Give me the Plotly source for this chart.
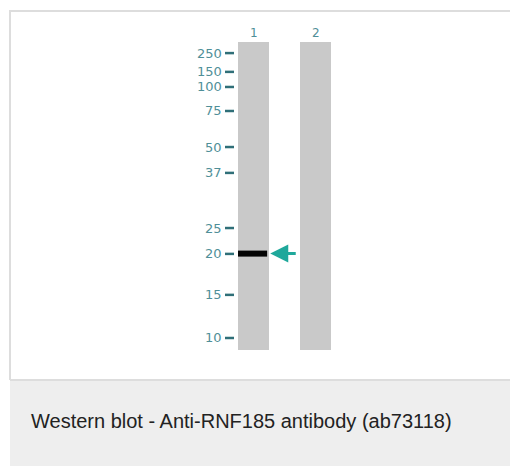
import plotly.graph_objects as go

# ---- data ----
lane_labels = ["1", "2"]
lane_pos = [1, 2]
marker_kda = ["250", "150", "100", "75", "50", "37", "25", "20", "15", "10"]
marker_rf = [0.036, 0.097, 0.146, 0.224, 0.341, 0.425, 0.604, 0.688, 0.821, 0.961]
band_lane = 1
band_rf = 0.687
caption = "Western blot - Anti-RNF185 antibody (ab73118)"

W, H = 510, 466
# geometry of the gel image in pixels
lane_top_px, lane_len_px = 42, 308
lane1_center_px, lane_step_px = 253.5, 62
half_w = 0.25

fig = go.Figure()

# lanes
for lp in lane_pos:
    fig.add_shape(type="rect", xref="x", yref="y", x0=lp - half_w, x1=lp + half_w,
                  y0=0, y1=1, fillcolor="#c9c9c9", line_width=0, layer="below")

# marker dashes
dx, dy = [], []
for rf in marker_rf:
    dx += [lane_pos[0] - half_w - 13 / lane_step_px, lane_pos[0] - half_w - 4 / lane_step_px, None]
    dy += [rf, rf, None]
fig.add_trace(go.Scatter(x=dx, y=dy, mode="lines", line=dict(color="#2f6f78", width=2.5),
                         hoverinfo="skip", showlegend=False))

# marker labels
for lab, rf in zip(marker_kda, marker_rf):
    fig.add_annotation(x=lane_pos[0] - half_w, y=rf, xref="x", yref="y", text=lab,
                       showarrow=False, xanchor="right", yanchor="middle", xshift=-14,
                       font=dict(family="DejaVu Sans", size=13, color="#4f8f98"))

# lane numbers
for lab, lp in zip(lane_labels, lane_pos):
    fig.add_annotation(x=lp, y=-0.03, xref="x", yref="y", text=lab, showarrow=False,
                       font=dict(family="DejaVu Sans", size=12, color="#4f8f98"))

# band
fig.add_shape(type="rect", xref="x", yref="y", x0=band_lane - half_w, x1=band_lane + half_w - 0.03,
              y0=band_rf - 3 / lane_len_px, y1=band_rf + 3 / lane_len_px,
              fillcolor="#050505", line_width=0)

# arrow
fig.add_annotation(x=band_lane + half_w + 0.02, y=band_rf, xref="x", yref="y",
                   ax=27, ay=0, text="", showarrow=True, arrowhead=2, arrowsize=1.2,
                   arrowwidth=3, arrowcolor="#1fa89b")

# card frame and caption
fig.add_shape(type="rect", xref="paper", yref="paper", x0=10 / W, x1=1, y0=0, y1=1 - 380 / H,
              fillcolor="#eeeeee", line_width=0, layer="below")
fig.add_shape(type="line", xref="paper", yref="paper", x0=10 / W, x1=1, y0=1 - 380 / H, y1=1 - 380 / H,
              line=dict(color="#dddddd", width=2))
fig.add_shape(type="line", xref="paper", yref="paper", x0=9 / W, x1=1, y0=1 - 11 / H, y1=1 - 11 / H,
              line=dict(color="#dddddd", width=2))
fig.add_shape(type="line", xref="paper", yref="paper", x0=10 / W, x1=10 / W, y0=1 - 380 / H, y1=1 - 10 / H,
              line=dict(color="#dddddd", width=2))
fig.add_annotation(x=29 / W, y=1 - 421 / H, xref="paper", yref="paper", text=caption,
                   showarrow=False, xanchor="left", yanchor="middle",
                   font=dict(family="Liberation Sans, Arial", size=20, color="#222222"))

x0 = lane_pos[0] - lane1_center_px / lane_step_px
x1 = lane_pos[0] + (W - lane1_center_px) / lane_step_px
fig.update_layout(
    width=W, height=H, margin=dict(l=0, r=0, t=0, b=0),
    paper_bgcolor="white", plot_bgcolor="white",
    xaxis=dict(range=[x0, x1], visible=False, fixedrange=True),
    yaxis=dict(range=[(H - lane_top_px) / lane_len_px, -lane_top_px / lane_len_px],
               visible=False, fixedrange=True),
    showlegend=False,
)
fig.write_html("out.html", config={"displayModeBar": False},
               post_script="document.body.style.margin='0';document.body.style.overflow='hidden';")
